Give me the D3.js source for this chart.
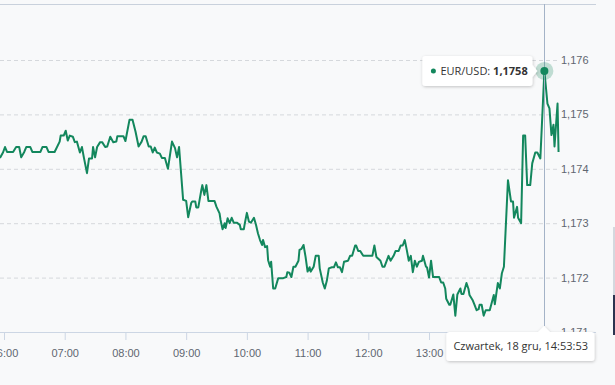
<!DOCTYPE html>
<meta charset="utf-8">
<style>
body { margin: 0; background: #f8f9fa; }
svg { display: block; font-family: "Open Sans", sans-serif; }
.line { fill: none; stroke: #13875d; stroke-width: 2; stroke-linejoin: round; }
.grid line { stroke: #d5d8dc; stroke-dasharray: 4,3; }
.grid text { fill: #5f6670; font-size: 11px; }
.x.axis line, .x.axis path { stroke: #ccd6e4; }
.x.axis text { fill: #5f6670; font-size: 11px; }
.tip text { fill: #333; font-size: 11px; }
</style>
<body>
<div id="chart"></div>
<script src="https://d3js.org/d3.v7.min.js"></script>
<script>
// EUR/USD intraday
var times = ["05:56","05:59","06:01","06:03","06:09","06:12","06:15","06:17","06:20","06:22","06:26","06:28","06:36","06:38","06:42","06:44","06:50","06:55","06:56","06:59",
  "07:01","07:03","07:05","07:08","07:10","07:12","07:15","07:17","07:19","07:22","07:24","07:27","07:28","07:30","07:32","07:35","07:37","07:40","07:42","07:45","07:48","07:51","07:52","07:58",
  "08:00","08:04","08:07","08:10","08:13","08:16","08:18","08:20","08:23","08:25","08:27","08:29","08:31","08:34","08:36","08:39","08:42","08:46","08:49","08:51","08:53","08:57",
  "09:00","09:02","09:05","09:06","09:09","09:10","09:12","09:15","09:16","09:18","09:20","09:22","09:28","09:30","09:33","09:34","09:36","09:38","09:39","09:41","09:43","09:45","09:47","09:50","09:53","09:54","09:57","09:58",
  "10:00","10:02","10:04","10:07","10:09","10:11","10:13","10:15","10:16","10:18","10:20","10:21","10:23","10:24","10:26","10:28","10:31","10:36","10:39","10:40","10:42","10:44","10:46","10:48","10:51","10:52","10:54","10:56","10:58",
  "11:00","11:02","11:03","11:06","11:08","11:11","11:12","11:15","11:17","11:19","11:21","11:24","11:26","11:28","11:30","11:32","11:34","11:36","11:40","11:42","11:44","11:47","11:48","11:50","11:52","11:55",
  "12:04","12:06","12:08","12:12","12:14","12:16","12:20","12:22","12:25","12:27","12:30","12:32","12:34","12:36","12:38","12:40","12:42","12:44","12:46","12:48","12:50","12:53","12:54","12:57","12:58",
  "13:00","13:02","13:04","13:10","13:12","13:14","13:16","13:17","13:20","13:21","13:24","13:26","13:28","13:31","13:32","13:34","13:37","13:39","13:40","13:43","13:45","13:47","13:49","13:50","13:52","13:54","13:56",
  "14:00","14:04","14:05","14:08","14:10","14:12","14:14","14:18","14:21","14:23","14:24","14:27","14:28","14:31","14:33","14:35","14:37","14:40","14:42","14:45","14:47","14:50","14:54","14:57","14:59",
  "15:01","15:03","15:04","15:07","15:08"];
var rates = [1.17420,1.17430,1.17440,1.17431,1.17431,1.17440,1.17440,1.17421,1.17431,1.17440,1.17440,1.17431,1.17431,1.17440,1.17440,1.17431,1.17431,1.17450,1.17461,1.17461,
  1.17470,1.17452,1.17461,1.17459,1.17449,1.17450,1.17430,1.17440,1.17420,1.17392,1.17419,1.17419,1.17440,1.17421,1.17440,1.17449,1.17449,1.17440,1.17441,1.17459,1.17449,1.17450,1.17460,1.17460,
  1.17451,1.17490,1.17490,1.17468,1.17441,1.17450,1.17460,1.17460,1.17441,1.17441,1.17430,1.17439,1.17430,1.17428,1.17420,1.17420,1.17400,1.17450,1.17438,1.17421,1.17440,1.17343,
  1.17341,1.17311,1.17337,1.17340,1.17340,1.17329,1.17329,1.17361,1.17370,1.17352,1.17370,1.17341,1.17341,1.17330,1.17318,1.17306,1.17289,1.17300,1.17291,1.17309,1.17300,1.17310,1.17301,1.17301,1.17297,1.17289,1.17289,1.17300,
  1.17319,1.17303,1.17301,1.17310,1.17297,1.17281,1.17269,1.17260,1.17269,1.17256,1.17258,1.17232,1.17220,1.17229,1.17180,1.17180,1.17199,1.17199,1.17201,1.17210,1.17209,1.17201,1.17220,1.17220,1.17231,1.17251,1.17253,1.17260,1.17238,
  1.17211,1.17219,1.17211,1.17220,1.17240,1.17240,1.17217,1.17191,1.17180,1.17194,1.17217,1.17219,1.17219,1.17228,1.17219,1.17219,1.17210,1.17229,1.17231,1.17240,1.17240,1.17259,1.17259,1.17249,1.17249,1.17240,
  1.17240,1.17259,1.17238,1.17231,1.17220,1.17220,1.17240,1.17231,1.17240,1.17249,1.17249,1.17259,1.17259,1.17269,1.17251,1.17231,1.17240,1.17210,1.17231,1.17220,1.17229,1.17231,1.17240,1.17220,1.17219,
  1.17200,1.17231,1.17201,1.17201,1.17191,1.17191,1.17180,1.17161,1.17150,1.17150,1.17169,1.17130,1.17169,1.17180,1.17170,1.17170,1.17190,1.17179,1.17168,1.17159,1.17150,1.17140,1.17142,1.17150,1.17150,1.17130,1.17140,
  1.17140,1.17168,1.17151,1.17190,1.17180,1.17208,1.17220,1.17379,1.17340,1.17340,1.17310,1.17330,1.17310,1.17300,1.17461,1.17461,1.17370,1.17370,1.17410,1.17430,1.17430,1.17419,1.17580,1.17520,1.17511,
  1.17462,1.17481,1.17441,1.17520,1.17431];
var yTicks = [1.171, 1.172, 1.173, 1.174, 1.175, 1.176];
var seriesName = "EUR/USD";
var hoverTime = "14:54";
var hoverLabel = "Czwartek, 18 gru, 14:53:53";

var width = 615, height = 385,
    plotTop = 4, plotBottom = 332, plotRight = 596;

var pl = d3.formatLocale({ decimal: ",", thousands: "\u00a0", grouping: [3], currency: ["", " zł"] });
var parse = d3.timeParse("%H:%M");
var data = times.map(function(t, i) { return { t: parse(t), v: rates[i] }; });

var x = d3.scaleTime()
    .domain([parse("06:00"), parse("15:45")])
    .range([4, plotRight]);
var y = d3.scaleLinear()
    .domain([1.171, 1.176])
    .range([plotBottom, 60]);

var svg = d3.select("#chart").append("svg")
    .attr("width", width)
    .attr("height", height);

var defs = svg.append("defs");
defs.append("clipPath").attr("id", "plot")
  .append("rect").attr("x", 0).attr("y", plotTop).attr("width", plotRight).attr("height", plotBottom - plotTop);
defs.append("filter").attr("id", "shadow")
    .attr("x", "-20%").attr("y", "-30%").attr("width", "140%").attr("height", "180%")
  .append("feDropShadow")
    .attr("dx", 0.5).attr("dy", 1).attr("stdDeviation", 1.5)
    .attr("flood-color", "#000").attr("flood-opacity", 0.22);

// top frame line
svg.append("line")
    .attr("x1", 0).attr("x2", plotRight).attr("y1", plotTop + 0.5).attr("y2", plotTop + 0.5)
    .attr("stroke", "#c9d1dc");

// grid + value labels on the right
var gy = svg.append("g")
    .attr("class", "grid")
    .attr("transform", "translate(557,0)")
    .call(d3.axisRight(y).tickValues(yTicks).tickSize(-557).tickPadding(4).tickFormat(pl.format(".3f")));
gy.select(".domain").remove();

// time axis
var gx = svg.append("g")
    .attr("class", "x axis")
    .attr("transform", "translate(0," + plotBottom + ")")
    .call(d3.axisBottom(x).ticks(d3.timeHour.every(1)).tickFormat(d3.timeFormat("%H:%M")).tickSize(8).tickPadding(9));
gx.select(".domain").attr("d", "M0,0.5H" + plotRight).attr("stroke", "#ccd6e4");

var line = d3.line()
    .x(function(d) { return x(d.t); })
    .y(function(d) { return y(d.v); });

svg.append("path")
    .datum(data)
    .attr("class", "line")
    .attr("clip-path", "url(#plot)")
    .attr("d", line);

// hovered point
var hp = data.find(function(d) { return +d.t === +parse(hoverTime); });
var px = x(hp.t), py = y(hp.v);

svg.append("line")
    .attr("x1", Math.round(px) + 0.5).attr("x2", Math.round(px) + 0.5)
    .attr("y1", plotTop).attr("y2", plotBottom - 6)
    .attr("stroke", "#a4b3c7");

svg.append("circle").attr("cx", px).attr("cy", py).attr("r", 9)
    .attr("fill", "#13875d").attr("fill-opacity", 0.25);
svg.append("circle").attr("cx", px).attr("cy", py).attr("r", 4)
    .attr("fill", "#13875d");

function boxPath(x0, y0, w, h, r, arrow) {
  var p = "M" + (x0 + r) + "," + y0;
  if (arrow.side === "top") p += "H" + (arrow.at - 6) + "L" + arrow.at + "," + (y0 - 6) + "L" + (arrow.at + 6) + "," + y0;
  p += "H" + (x0 + w - r) + "Q" + (x0 + w) + "," + y0 + " " + (x0 + w) + "," + (y0 + r);
  if (arrow.side === "right") p += "V" + (arrow.at - 6) + "L" + (x0 + w + 5) + "," + arrow.at + "L" + (x0 + w) + "," + (arrow.at + 6);
  p += "V" + (y0 + h - r) + "Q" + (x0 + w) + "," + (y0 + h) + " " + (x0 + w - r) + "," + (y0 + h);
  p += "H" + (x0 + r) + "Q" + x0 + "," + (y0 + h) + " " + x0 + "," + (y0 + h - r);
  p += "V" + (y0 + r) + "Q" + x0 + "," + y0 + " " + (x0 + r) + "," + y0 + "Z";
  return p;
}

// value tooltip, arrow to the right
var t1 = svg.append("g").attr("class", "tip");
var b1x = px - 122, b1y = py - 15;
t1.append("path")
    .attr("d", boxPath(b1x, b1y, 110, 30, 3, { side: "right", at: py }))
    .attr("fill", "#fff").attr("filter", "url(#shadow)");
t1.append("circle").attr("cx", b1x + 11).attr("cy", py).attr("r", 2.5).attr("fill", "#13875d");
var tx1 = t1.append("text").attr("x", b1x + 18).attr("y", py + 4);
tx1.append("tspan").text(seriesName + ": ");
tx1.append("tspan").attr("font-weight", "bold").text(pl.format(".4f")(hp.v));

// date tooltip under the axis; axis labels it covers are not shown
var b2x = px - 98, b2y = plotBottom, b2w = 148;
gx.selectAll(".tick").filter(function(d) { return x(d) + 14 > b2x; }).select("text").remove();

var t2 = svg.append("g").attr("class", "tip");
t2.append("path")
    .attr("d", boxPath(b2x, b2y, b2w, 29, 3, { side: "top", at: Math.round(px) }))
    .attr("fill", "#fff").attr("filter", "url(#shadow)");
t2.append("text").attr("x", b2x + 7).attr("y", b2y + 18).text(hoverLabel);

// edge of the neighbouring panel
svg.append("rect").attr("x", 613).attr("y", 227).attr("width", 2).attr("height", 68).attr("fill", "#d4d8de");
svg.append("rect").attr("x", 613).attr("y", 295).attr("width", 2).attr("height", 40).attr("fill", "#2b3450");
</script>
</body>
